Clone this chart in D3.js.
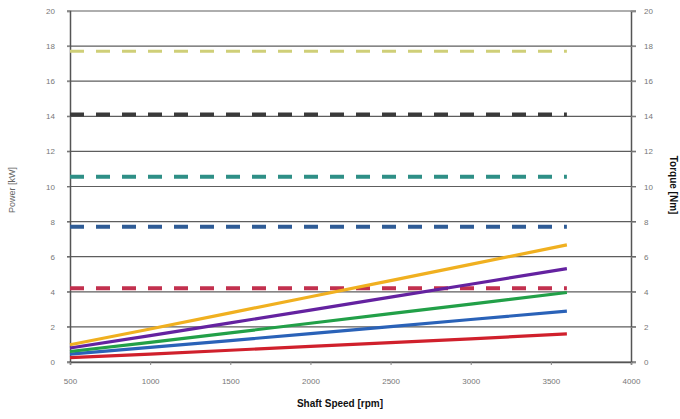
<!DOCTYPE html>
<html><head><meta charset="utf-8">
<script src="https://cdn.jsdelivr.net/npm/d3@7"></script>
<style>body{margin:0;background:#fff}svg{display:block}</style>
</head><body>
<svg id="c" width="680" height="419"></svg>
<script>
const speeds = [500, 1000, 1500, 2000, 2500, 3000, 3600];
const xTicks = [500, 1000, 1500, 2000, 2500, 3000, 3500, 4000];
const yTicks = [0, 2, 4, 6, 8, 10, 12, 14, 16, 18, 20];
const powerOrange = [0.98, 1.88, 2.80, 3.72, 4.64, 5.56, 6.67];
const powerPurple = [0.80, 1.50, 2.23, 2.96, 3.70, 4.43, 5.32];
const powerGreen  = [0.60, 1.12, 1.66, 2.21, 2.76, 3.30, 3.96];
const powerBlue   = [0.45, 0.83, 1.22, 1.62, 2.02, 2.42, 2.90];
const powerRed    = [0.25, 0.45, 0.67, 0.89, 1.10, 1.32, 1.60];
const torqueYellow = [17.7, 17.7, 17.7, 17.7, 17.7, 17.7, 17.7];
const torqueBlack  = [14.1, 14.1, 14.1, 14.1, 14.1, 14.1, 14.1];
const torqueTeal   = [10.55, 10.55, 10.55, 10.55, 10.55, 10.55, 10.55];
const torqueBlue   = [7.7, 7.7, 7.7, 7.7, 7.7, 7.7, 7.7];
const torqueRed    = [4.2, 4.2, 4.2, 4.2, 4.2, 4.2, 4.2];

const svg = d3.select('#c');
const L = 70, R = 631, T = 11, B = 362;
const x = d3.scaleLinear().domain([500, 4000]).range([L, R]);
const yL = d3.scaleLinear().domain([0, 20]).range([B, T]);
const yR = d3.scaleLinear().domain([0, 20]).range([B, T]);

// gridlines
svg.append('g').selectAll('line').data(yTicks).join('line')
  .attr('x1', L - 3).attr('x2', R + 5)
  .attr('y1', d => yL(d)).attr('y2', d => yL(d))
  .attr('stroke', '#5e5e5e').attr('stroke-width', 1.2);

// axes
const axL = d3.axisLeft(yL).tickValues(yTicks).tickSize(3).tickPadding(12);
const axR = d3.axisRight(yR).tickValues(yTicks).tickSize(5).tickPadding(8);
const axB = d3.axisBottom(x).tickValues(xTicks).tickFormat(d3.format('d')).tickSize(3).tickPadding(13);
function style(g){
  g.select('.domain').attr('stroke', '#555').attr('stroke-width', 1.5);
  g.selectAll('.tick line').attr('stroke', '#888');
  g.selectAll('text').attr('fill', '#777').style('font-family', 'Arial, Liberation Sans, sans-serif').style('font-size', '8px');
}
svg.append('g').attr('transform', `translate(${L},0)`).call(axL).call(style);
svg.append('g').attr('transform', `translate(${R},0)`).call(axR).call(style);
svg.append('g').attr('transform', `translate(0,${B})`).call(axB).call(style);

const lineL = d3.line().x((d, i) => x(speeds[i])).y(d => yL(d));
const lineR = d3.line().x((d, i) => x(speeds[i])).y(d => yR(d));

const dashed = [
  [torqueYellow, '#cfcf78', 3],
  [torqueBlack, '#3a3a3a', 4],
  [torqueTeal, '#2e8f86', 4],
  [torqueBlue, '#2f5c96', 4],
  [torqueRed, '#c2304e', 4]
];
dashed.forEach(([d, c, w]) => {
  svg.append('path').attr('d', lineR(d)).attr('fill', 'none')
    .attr('stroke', c).attr('stroke-width', w).attr('stroke-dasharray', '14,12');
});

const solid = [
  [powerRed, '#d0202c'],
  [powerBlue, '#2a62b8'],
  [powerGreen, '#22a048'],
  [powerPurple, '#6422a0'],
  [powerOrange, '#f0b020']
];
solid.forEach(([d, c]) => {
  svg.append('path').attr('d', lineL(d)).attr('fill', 'none')
    .attr('stroke', c).attr('stroke-width', 3.2);
});

// titles
svg.append('text').attr('transform', 'translate(15,190) rotate(-90)')
  .attr('text-anchor', 'middle').attr('fill', '#666')
  .style('font-family', 'Arial, Liberation Sans, sans-serif').style('font-size', '9px')
  .text('Power [kW]');
svg.append('text').attr('transform', 'translate(670,185) rotate(90)')
  .attr('text-anchor', 'middle').attr('fill', '#111').attr('font-weight', 'bold')
  .style('font-family', 'Arial, Liberation Sans, sans-serif').style('font-size', '10px')
  .text('Torque [Nm]');
svg.append('text').attr('x', 340).attr('y', 407)
  .attr('text-anchor', 'middle').attr('fill', '#111').attr('font-weight', 'bold')
  .style('font-family', 'Arial, Liberation Sans, sans-serif').style('font-size', '10px')
  .text('Shaft Speed [rpm]');
</script>
</body></html>
